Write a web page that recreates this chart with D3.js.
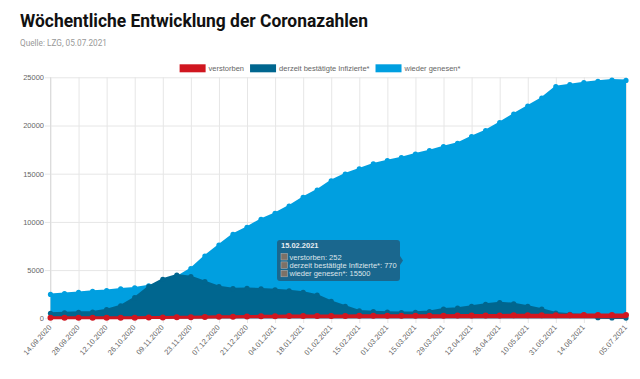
<!DOCTYPE html>
<html>
<head>
<meta charset="utf-8">
<script src="https://cdn.jsdelivr.net/npm/d3@7"></script>
<style>
  body { margin: 0; background: #fff; }
  svg { display: block; }
  .axis text { font-family: 'Liberation Sans', Arial, sans-serif; font-size: 7.5px; fill: #666; }
  .axis line { stroke: #e6e6e6; stroke-width: 1; }
</style>
</head>
<body>
<div id="chart"></div>
<script>
/** Weekly categories */
let dates = [
  '14.09.2020', '21.09.2020', '28.09.2020', '05.10.2020', '12.10.2020', '19.10.2020', '26.10.2020',
  '02.11.2020', '09.11.2020', '16.11.2020', '23.11.2020', '30.11.2020', '07.12.2020', '14.12.2020',
  '21.12.2020', '28.12.2020', '04.01.2021', '11.01.2021', '18.01.2021', '25.01.2021', '01.02.2021',
  '08.02.2021', '15.02.2021', '22.02.2021', '01.03.2021', '08.03.2021', '15.03.2021', '22.03.2021',
  '29.03.2021', '05.04.2021', '12.04.2021', '19.04.2021', '26.04.2021', '03.05.2021', '10.05.2021',
  '17.05.2021', '31.05.2021', '07.06.2021', '14.06.2021', '21.06.2021', '28.06.2021', '05.07.2021'
];

/** Dates that get a label on the x axis */
let tickLabels = [
  '14.09.2020', '28.09.2020', '12.10.2020', '26.10.2020', '09.11.2020', '23.11.2020', '07.12.2020',
  '21.12.2020', '04.01.2021', '18.01.2021', '01.02.2021', '15.02.2021', '01.03.2021', '15.03.2021',
  '29.03.2021', '12.04.2021', '26.04.2021', '10.05.2021', '31.05.2021', '14.06.2021', '05.07.2021'
];

/** Series values */
let verstorben = [
  60, 60, 61, 62, 63, 65, 70, 78, 90, 105, 120, 138, 155, 172, 190, 205, 218, 230, 238, 244, 248,
  250, 252, 255, 258, 262, 265, 268, 272, 278, 285, 292, 300, 308, 315, 320, 325, 328, 330, 331, 332, 333
];
let infizierte = [
  520, 570, 620, 650, 900, 1300, 2140, 3280, 4050, 4490, 4320, 3800, 3280, 3070, 3100, 3050, 2950,
  2850, 2700, 2400, 1750, 1250, 770, 690, 640, 600, 620, 700, 960, 1050, 1250, 1450, 1620, 1500,
  1250, 950, 550, 420, 330, 60, 30, 20
];
let genesen = [
  2480, 2570, 2680, 2800, 2880, 3050, 3150, 3370, 3660, 4280, 5150, 6460, 7600, 8710, 9440, 10270,
  10890, 11650, 12550, 13310, 14270, 14970, 15500, 16010, 16350, 16660, 17040, 17390, 17800, 18150,
  18840, 19460, 20290, 21190, 22020, 22850, 24030, 24230, 24440, 24590, 24720, 24680
];

let yTicks = [0, 5000, 10000, 15000, 20000, 25000];
let seriesNames = ['verstorben', 'derzeit bestätigte Infizierte*', 'wieder genesen*'];
let seriesColors = ['#d0161f', '#00668f', '#009fe0'];
let tooltipDate = '15.02.2021';

/** Canvas */
let width = 640, height = 379;
let plot = { left: 50.5, right: 626, top: 77.3, bottom: 318.3 };

let svg = d3.select('#chart').append('svg')
    .attr('width', width)
    .attr('height', height);

/** Title and source */
svg.append('text')
    .attr('x', 20)
    .attr('y', 27)
    .style('font-family', 'Roboto, sans-serif')
    .style('font-weight', 'bold')
    .style('font-size', '18px')
    .style('fill', '#111')
    .attr('textLength', 348)
    .attr('lengthAdjust', 'spacingAndGlyphs')
    .text('Wöchentliche Entwicklung der Coronazahlen');

svg.append('text')
    .attr('x', 20)
    .attr('y', 46)
    .style('font-family', 'Roboto, sans-serif')
    .style('font-size', '8.5px')
    .style('fill', '#999')
    .attr('textLength', 87)
    .attr('lengthAdjust', 'spacingAndGlyphs')
    .text('Quelle: LZG, 05.07.2021');

/** Scales */
let x = d3.scalePoint().domain(dates).range([plot.left, plot.right]);
let y = d3.scaleLinear().domain([0, 25000]).range([plot.bottom, plot.top]);

/** Gridlines + axes */
let yAxisG = svg.append('g')
    .attr('class', 'axis')
    .attr('transform', 'translate(45,0)')
    .call(d3.axisLeft(y).tickValues(yTicks).tickFormat(d3.format('d'))
        .tickSize(-(plot.right - 45)).tickPadding(1));
yAxisG.select('.domain').remove();

let xAxisG = svg.append('g')
    .attr('class', 'axis')
    .attr('transform', 'translate(0,323)')
    .call(d3.axisBottom(x).tickValues(tickLabels).tickSize(-(323 - plot.top)));
xAxisG.select('.domain').remove();
xAxisG.selectAll('text')
    .attr('y', 0)
    .attr('dy', '0.35em')
    .attr('text-anchor', 'end')
    .attr('transform', 'translate(-1,3) rotate(-48)');

svg.append('line')
    .attr('x1', plot.left).attr('x2', plot.left)
    .attr('y1', plot.top).attr('y2', plot.bottom)
    .style('stroke', '#dcdcdc');

/** Areas, lines and points (back to front) */
let series = [
  { values: genesen, color: seriesColors[2], lw: 2, r: 2.6 },
  { values: infizierte, color: seriesColors[1], lw: 2, r: 2.6 },
  { values: verstorben, color: seriesColors[0], lw: 3, r: 3 }
];

let area = d3.area()
    .x(function (d, i) { return x(dates[i]); })
    .y0(y(0))
    .y1(function (d) { return y(d); });
let line = d3.line()
    .x(function (d, i) { return x(dates[i]); })
    .y(function (d) { return y(d); });

series.forEach(function (s) {
    let g = svg.append('g');
    g.append('path')
        .attr('d', area(s.values))
        .style('fill', s.color);
    g.append('path')
        .attr('d', line(s.values))
        .style('fill', 'none')
        .style('stroke', s.color)
        .style('stroke-width', s.lw);
    g.selectAll('circle')
        .data(s.values)
        .enter()
        .append('circle')
        .attr('cx', function (d, i) { return x(dates[i]); })
        .attr('cy', function (d) { return y(d); })
        .attr('r', s.r)
        .style('fill', s.color);
});

/** Legend */
let legend = svg.append('g');
let lx = 0;
seriesNames.forEach(function (name, i) {
    legend.append('rect')
        .attr('x', lx).attr('y', 64.3)
        .attr('width', 26).attr('height', 8)
        .style('fill', seriesColors[i]);
    let t = legend.append('text')
        .attr('x', lx + 29).attr('y', 71)
        .style('font-family', "'Liberation Sans', Arial, sans-serif")
        .style('font-size', '7.5px')
        .style('fill', '#666')
        .text(name);
    lx += 29 + t.node().getComputedTextLength() + 6;
});
legend.attr('transform', 'translate(' + (320 - (lx - 6) / 2) + ',0)');

/** Tooltip for the highlighted week */
let ti = dates.indexOf(tooltipDate);
let tip = svg.append('g').attr('transform', 'translate(277,240)');
tip.append('path')
    .attr('d', 'M3,0 H120 Q123,0 123,3 V16 L126,20.5 L123,25 V38 Q123,41 120,41 H3 Q0,41 0,38 V3 Q0,0 3,0 Z')
    .style('fill', '#1a678e');
tip.append('text')
    .attr('x', 4).attr('y', 8)
    .style('font-family', "'Liberation Sans', Arial, sans-serif")
    .style('font-size', '7.5px')
    .style('font-weight', 'bold')
    .style('fill', '#e6edf2')
    .text(tooltipDate);
let tipValues = [verstorben[ti], infizierte[ti], genesen[ti]];
seriesNames.forEach(function (name, i) {
    let ty = 19.5 + i * 8.4;
    tip.append('rect')
        .attr('x', 4).attr('y', ty - 6)
        .attr('width', 6.5).attr('height', 6.5)
        .style('fill', '#7c7167')
        .style('stroke', '#b9b9b9')
        .style('stroke-width', 0.5);
    tip.append('text')
        .attr('x', 12.5).attr('y', ty)
        .style('font-family', "'Liberation Sans', Arial, sans-serif")
        .style('font-size', '7.5px')
        .style('fill', '#dde5ea')
        .text(name + ': ' + tipValues[i]);
});
</script>
</body>
</html>
